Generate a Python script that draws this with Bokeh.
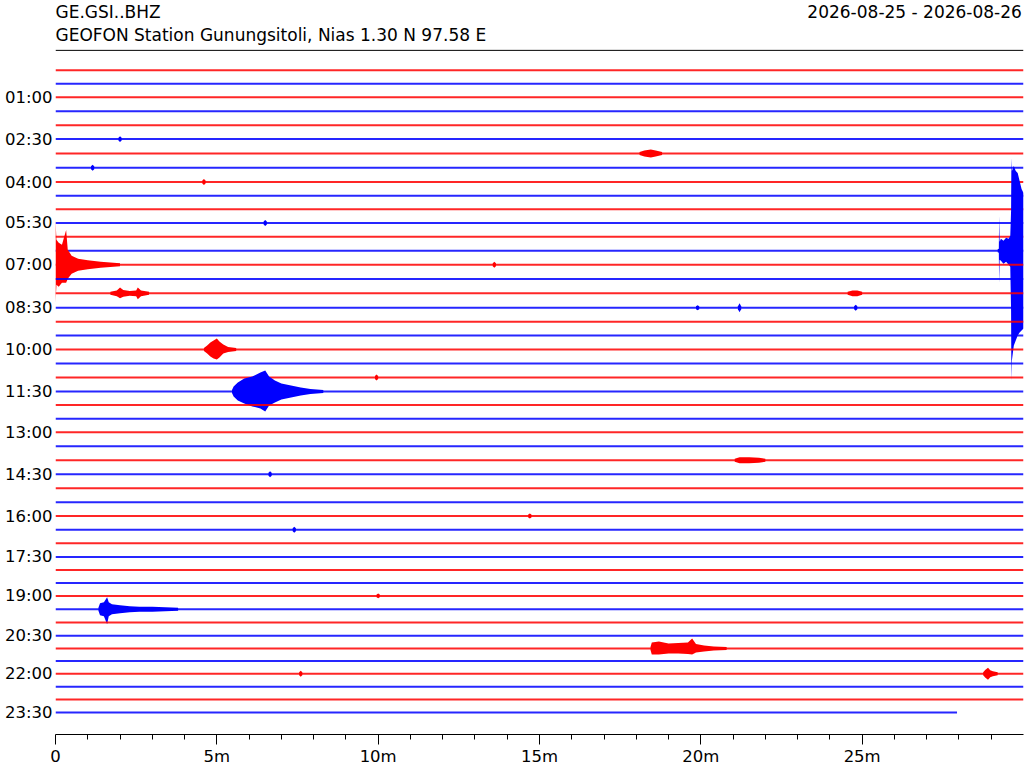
import numpy as np
from bokeh.plotting import figure
from bokeh.models import Range1d, FixedTicker, Label, Span
from bokeh.embed import file_html
from bokeh.resources import INLINE

# ---------------- data ----------------
STATION = "GE.GSI..BHZ"
SUBTITLE = "GEOFON Station Gunungsitoli, Nias  1.30 N 97.58 E"
DATE_RANGE = "2026-08-25 - 2026-08-26"

N_ROWS = 48                      # 30-minute rows over one day
TRACE_START = [0.0] * 48         # minutes into each row
TRACE_END = [30.0] * 47 + [27.94]
TRACE_COLORS = ["#ff0000", "#0000ff"]

Y_TICK_ROWS = [2, 5, 8, 11, 14, 17, 20, 23, 26, 29, 32, 35, 38, 41, 44, 47]
Y_TICK_LABELS = ["01:00", "02:30", "04:00", "05:30", "07:00", "08:30", "10:00", "11:30",
                 "13:00", "14:30", "16:00", "17:30", "19:00", "20:30", "22:00", "23:30"]
X_TICKS = [0, 5, 10, 15, 20, 25]
X_TICK_LABELS = ["0", "5m", "10m", "15m", "20m", "25m"]
X_MINOR_TICKS = [m for m in range(1, 30)]

# events: row, times (min), upper envelope, lower envelope (amplitude units)
EVENT_ROW = [13, 14, 16, 20, 23, 39, 42, 44,
             6, 16, 17, 17, 28, 14, 5, 7, 8, 11, 22, 29, 33, 32, 38, 44, 17]
EVENT_T = [
    [29.20, 29.235, 29.245, 29.26, 29.30, 29.38, 29.46, 29.54, 29.59, 29.615, 29.625, 29.64, 29.70, 29.76, 29.82, 29.88, 29.94, 30.0],
    [0.0, 0.03, 0.1, 0.2, 0.33, 0.38, 0.5, 0.7, 1.0, 1.4, 2.0],
    [1.7, 1.9, 2.0, 2.1, 2.3, 2.5, 2.55, 2.65, 2.9],
    [4.6, 4.7, 4.8, 4.9, 5.0, 5.08, 5.2, 5.35, 5.6],
    [5.47, 5.52, 5.65, 5.85, 6.1, 6.35, 6.5, 6.62, 6.8, 7.0, 7.3, 7.6, 7.9, 8.3],
    [1.33, 1.38, 1.5, 1.6, 1.65, 1.75, 2.0, 2.3, 2.6, 3.0, 3.4, 3.8],
    [18.44, 18.48, 18.7, 19.0, 19.3, 19.6, 19.73, 19.85, 20.1, 20.4, 20.8],
    [28.75, 28.82, 28.9, 28.97, 29.05, 29.2],
    [18.1, 18.25, 18.45, 18.6, 18.8],
    [24.55, 24.7, 24.85, 25.0],
    [21.15, 21.2, 21.25],
    [24.75, 24.8, 24.85],
    [21.05, 21.2, 21.5, 21.8, 22.0],
    [13.55, 13.6, 13.65],
    [1.95, 2.0, 2.05],
    [1.1, 1.15, 1.2],
    [4.55, 4.6, 4.65],
    [6.45, 6.5, 6.55],
    [9.9, 9.95, 10.0],
    [6.6, 6.65, 6.7],
    [7.35, 7.4, 7.45],
    [14.65, 14.7, 14.75],
    [9.95, 10.0, 10.05],
    [7.55, 7.6, 7.65],
    [19.85, 19.9, 19.95],
]
EVENT_UP = [
    [1.5, 2, 35, 9, 12, 10, 13, 12, 15, 40, 93, 80, 85, 80, 78, 70, 62, 58],
    [45, 25, 22, 20, 35, 15, 9, 6, 4.5, 3, 1.5],
    [1.5, 3, 6, 3.5, 2.5, 3, 6, 3, 1.5],
    [1.5, 4, 7, 9, 11, 8, 5, 2.5, 1.5],
    [1.5, 5, 9, 13, 15, 19, 21, 15, 11, 8, 6, 4, 2.5, 1.5],
    [1.5, 6, 7, 12, 7, 5, 4, 3, 2.5, 2.5, 2, 1.5],
    [1.5, 6, 7, 5, 5.5, 6, 10, 4.5, 3, 2, 1.5],
    [1.5, 4, 6, 3.5, 2.5, 1.5],
    [1.5, 3, 4, 3, 1.5],
    [1.5, 3, 3, 1.5],
    [1.5, 4.5, 1.5],
    [1.5, 3, 1.5],
    [1.5, 3, 3, 2.5, 1.5],
    [1.5, 3, 1.5],
    [1.5, 3, 1.5],
    [1.5, 3, 1.5],
    [1.5, 3, 1.5],
    [1.5, 3, 1.5],
    [1.5, 3, 1.5],
    [1.5, 3, 1.5],
    [1.5, 3, 1.5],
    [1.5, 2.5, 1.5],
    [1.5, 2.5, 1.5],
    [1.5, 3, 1.5],
    [1.5, 2.5, 1.5],
]
EVENT_LO = [
    [-1.5, -2, -32, -9, -10, -13, -11, -14, -16, -60, -130, -110, -95, -90, -85, -82, -80, -78],
    [-38, -20, -22, -18, -18, -14, -9, -6, -4.5, -3, -1.5],
    [-1.5, -3, -5, -3.5, -2.5, -3, -6, -3, -1.5],
    [-1.5, -4, -7, -9, -10, -8, -4, -2.5, -1.5],
    [-1.5, -5, -9, -12, -15, -17, -20, -14, -11, -8, -6, -4, -2.5, -1.5],
    [-1.5, -6, -7, -15, -7, -5, -4, -3, -2.5, -2.5, -2, -1.5],
    [-1.5, -6, -6, -5, -5, -5.5, -6, -4, -3, -2, -1.5],
    [-1.5, -4, -6, -3.5, -2.5, -1.5],
    [-1.5, -3, -4, -3, -1.5],
    [-1.5, -3, -3, -1.5],
    [-1.5, -4.5, -1.5],
    [-1.5, -3, -1.5],
    [-1.5, -3, -3, -2.5, -1.5],
    [-1.5, -3, -1.5],
    [-1.5, -3, -1.5],
    [-1.5, -3, -1.5],
    [-1.5, -3, -1.5],
    [-1.5, -3, -1.5],
    [-1.5, -3, -1.5],
    [-1.5, -3, -1.5],
    [-1.5, -3, -1.5],
    [-1.5, -2.5, -1.5],
    [-1.5, -2.5, -1.5],
    [-1.5, -3, -1.5],
    [-1.5, -2.5, -1.5],
]

# ---------------- layout ----------------
ANCHOR_ROWS = [0, 2, 5, 8, 11, 14, 17, 20, 23, 26, 29, 32, 35, 38, 41, 44, 47]
ANCHOR_PX = [70, 97, 139, 182, 223, 265, 308, 350, 392, 433, 475, 517, 558, 597, 637, 675, 714]
row_y = np.interp(np.arange(N_ROWS), ANCHOR_ROWS, ANCHOR_PX)
AMP_PX = 1.0
FONT = "DejaVu Sans"

p = figure(width=1024, height=768, x_range=Range1d(0, 30), y_range=Range1d(736, 0),
           toolbar_location=None, output_backend="svg",
           min_border_left=55, min_border_right=1, min_border_top=0, min_border_bottom=32)
p.outline_line_color = None
p.xgrid.visible = False
p.ygrid.visible = False
p.background_fill_color = "white"
p.border_fill_color = "white"

# traces, drawn row by row so later rows sit on top
for r in range(N_ROWS):
    color = TRACE_COLORS[r % 2]
    base = row_y[r]
    p.line(x=[TRACE_START[r], TRACE_END[r]], y=[base, base], line_color=color,
           line_width=2.0, line_alpha=0.85)
    for k, er in enumerate(EVENT_ROW):
        if er != r:
            continue
        t = np.array(EVENT_T[k])
        up = np.array(EVENT_UP[k]) * AMP_PX
        lo = np.array(EVENT_LO[k]) * AMP_PX
        p.varea(x=t, y1=base - up, y2=base - lo, fill_color=color, fill_alpha=1.0)

# header
HDR = "17px"
p.add_layout(Label(x=0, y=11.5, text=STATION, text_font=FONT, text_font_size=HDR,
                   text_color="black", text_align="left", text_baseline="middle"))
p.add_layout(Label(x=0, y=34.5, text=SUBTITLE, text_font=FONT, text_font_size=HDR,
                   text_color="black", text_align="left", text_baseline="middle"))
p.add_layout(Label(x=29.95, y=11.2, text=DATE_RANGE, text_font=FONT, text_font_size=HDR,
                   text_color="black", text_align="right", text_baseline="middle"))
p.add_layout(Span(location=50, dimension="width", line_color="black", line_width=1))

# x axis
xa = p.xaxis[0]
xa.ticker = FixedTicker(ticks=X_TICKS, minor_ticks=X_MINOR_TICKS)
xa.major_label_overrides = {t: l for t, l in zip(X_TICKS, X_TICK_LABELS)}
xa.axis_line_color = "black"
xa.axis_line_width = 1
xa.major_tick_line_color = "black"
xa.minor_tick_line_color = "black"
xa.major_tick_in = 0
xa.major_tick_out = 10
xa.minor_tick_in = 0
xa.minor_tick_out = 5
xa.major_label_standoff = 2
xa.major_label_text_font = FONT
xa.major_label_text_font_size = "16.5px"
xa.major_label_text_color = "black"

# y axis
ya = p.yaxis[0]
ytick_px = [int(round(row_y[r])) for r in Y_TICK_ROWS]
ya.ticker = FixedTicker(ticks=ytick_px, minor_ticks=[])
ya.major_label_overrides = {t: l for t, l in zip(ytick_px, Y_TICK_LABELS)}
ya.axis_line_color = None
ya.major_tick_line_color = None
ya.minor_tick_line_color = None
ya.major_tick_in = 0
ya.major_tick_out = 0
ya.major_label_standoff = 3
ya.major_label_text_font = FONT
ya.major_label_text_font_size = "16.5px"
ya.major_label_text_color = "black"

open("out.html", "w").write(file_html(p, INLINE))
